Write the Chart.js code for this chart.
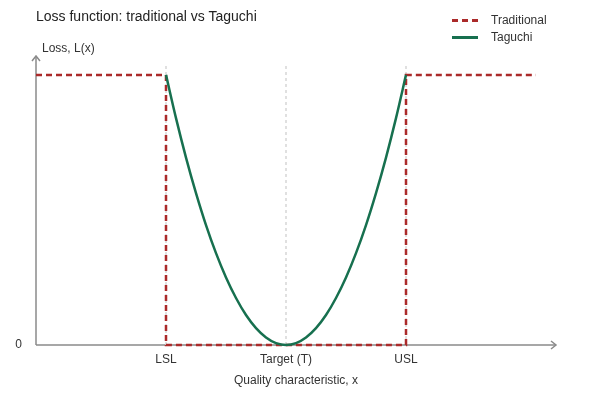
<!DOCTYPE html>
<html>
<head>
<meta charset="utf-8">
<script src="https://cdn.jsdelivr.net/npm/chart.js@4.4.1/dist/chart.umd.min.js"></script>
<style>
  html, body { margin: 0; padding: 0; background: #fff; }
  #wrap { position: relative; width: 593px; height: 400px; font-family: "Liberation Sans", Arial, sans-serif; }
  #c { position: absolute; left: 0; top: 0; }
  .txt { position: absolute; white-space: nowrap; color: #222; }
  #title { left: 36px; top: 8px; font-size: 14px; }
  #ytitle { left: 42px; top: 41px; font-size: 12px; color: #333; }
  .lg { position: absolute; left: 452px; font-size: 12px; color: #333; height: 16px; }
  .lg .sw { position: absolute; left: 0; top: 7px; width: 26px; height: 0; }
  .lg .lbl { position: absolute; left: 39px; top: 0; line-height: 16px; white-space: nowrap; }
</style>
</head>
<body>
<div id="wrap">
  <canvas id="c" width="593" height="400"></canvas>
  <div id="title" class="txt">Loss function: traditional vs Taguchi</div>
  <div id="ytitle" class="txt">Loss, L(x)</div>
  <div class="lg" style="top:12px"><div class="sw" style="border-top:3px dashed #ab2a2a"></div><div class="lbl">Traditional</div></div>
  <div class="lg" style="top:29px"><div class="sw" style="border-top:3px solid #17704f"></div><div class="lbl">Taguchi</div></div>
</div>
<script>
// ---- data ----
const seriesNames = ["Traditional", "Taguchi"];
const tickValues = [2.6, 5, 7.4];
const tickLabels = ["LSL", "Target (T)", "USL"];
const traditionalX = [0, 2.6, 2.6, 7.4, 7.4, 10];
const traditionalY = [1, 1, 0, 0, 1, 1];
const taguchiX = [2.6, 2.8, 3.0, 3.2, 3.4, 3.6, 3.8, 4.0, 4.2, 4.4, 4.6, 4.8, 5.0, 5.2, 5.4, 5.6, 5.8, 6.0, 6.2, 6.4, 6.6, 6.8, 7.0, 7.2, 7.4];
const taguchiY = [1.0, 0.84, 0.694, 0.5625, 0.444, 0.34, 0.25, 0.174, 0.111, 0.0625, 0.028, 0.007, 0, 0.007, 0.028, 0.0625, 0.111, 0.174, 0.25, 0.34, 0.444, 0.5625, 0.694, 0.84, 1.0];
const guideTop = 1.033;
const xMin = 0, xMax = 10.4, yMin = 0, yMax = 1.07;

const toPts = (xs, ys) => xs.map((x, i) => ({ x: x, y: ys[i] }));

const guideSets = tickValues.map(v => ({
  label: "_guide",
  data: toPts([v, v], [0, guideTop]),
  borderColor: "#d6d6d6",
  borderWidth: 1.5,
  borderDash: [3, 3],
  pointRadius: 0,
  order: 2
}));

const arrowPlugin = {
  id: "arrows",
  beforeDatasetsDraw(chart) {
    const ctx = chart.ctx;
    const xs = chart.scales.x, ys = chart.scales.y;
    const x0 = xs.getPixelForValue(xMin), x1 = xs.getPixelForValue(xMax);
    const y0 = ys.getPixelForValue(yMin), y1 = ys.getPixelForValue(yMax);
    ctx.save();
    ctx.strokeStyle = "#8a8a8a";
    ctx.lineWidth = 1.5;
    ctx.beginPath();
    ctx.moveTo(x0, y0); ctx.lineTo(x1, y0);
    ctx.moveTo(x0, y0); ctx.lineTo(x0, y1);
    ctx.stroke();
    ctx.beginPath();
    ctx.moveTo(x1 - 5, y0 - 4); ctx.lineTo(x1, y0); ctx.lineTo(x1 - 5, y0 + 4);
    ctx.moveTo(x0 - 4, y1 + 5); ctx.lineTo(x0, y1); ctx.lineTo(x0 + 4, y1 + 5);
    ctx.stroke();
    ctx.restore();
  }
};

new Chart(document.getElementById("c"), {
  type: "line",
  data: {
    datasets: [
      {
        label: seriesNames[1],
        data: toPts(taguchiX, taguchiY),
        borderColor: "#17704f",
        borderWidth: 2.5,
        pointRadius: 0,
        cubicInterpolationMode: "monotone",
        clip: false,
        order: 0
      },
      {
        label: seriesNames[0],
        data: toPts(traditionalX, traditionalY),
        borderColor: "#ab2a2a",
        borderWidth: 2.5,
        borderDash: [6, 4],
        pointRadius: 0,
        tension: 0,
        clip: false,
        order: 1
      },
      ...guideSets
    ]
  },
  options: {
    responsive: false,
    animation: false,
    devicePixelRatio: 1,
    layout: { padding: { top: 56, right: 37, left: 0, bottom: 0 } },
    plugins: {
      legend: { display: false },
      title: { display: false },
      tooltip: { enabled: false }
    },
    scales: {
      x: {
        type: "linear",
        min: xMin, max: xMax,
        grid: { display: false, drawTicks: false },
        border: { display: false },
        afterBuildTicks: s => { s.ticks = tickValues.map(v => ({ value: v })); },
        afterFit: s => { s.height = 55; },
        ticks: {
          autoSkip: false,
          maxRotation: 0,
          padding: 7,
          color: "#333",
          font: { family: "'Liberation Sans', Arial, sans-serif", size: 12 },
          callback: v => { const i = tickValues.indexOf(v); return i >= 0 ? tickLabels[i] : ""; }
        },
        title: {
          display: true,
          text: "Quality characteristic, x",
          color: "#333",
          font: { family: "'Liberation Sans', Arial, sans-serif", size: 12 },
          padding: { top: 4, bottom: 12 }
        }
      },
      y: {
        type: "linear",
        min: yMin, max: yMax,
        grid: { display: false, drawTicks: false },
        border: { display: false },
        afterBuildTicks: s => { s.ticks = [{ value: 0 }]; },
        afterFit: s => { s.width = 36; },
        ticks: {
          padding: 14,
          color: "#333",
          font: { family: "'Liberation Sans', Arial, sans-serif", size: 12 },
          callback: v => (v === 0 ? "0" : "")
        }
      }
    }
  },
  plugins: [arrowPlugin]
});
</script>
</body>
</html>
